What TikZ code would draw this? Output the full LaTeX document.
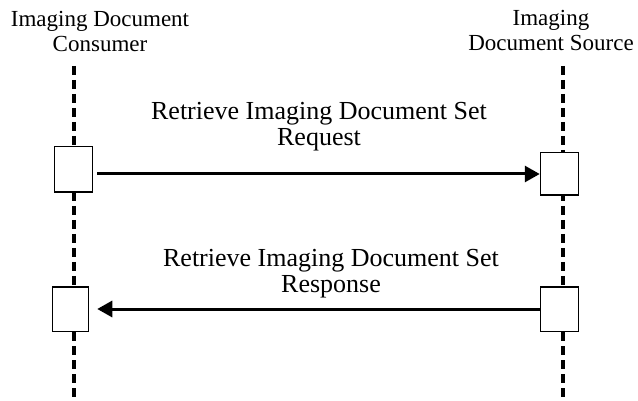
\documentclass[tikz,border=0pt]{standalone}
\usepackage{fontspec}
\setmainfont{Liberation Serif}
\usetikzlibrary{arrows.meta}

\begin{document}
\begin{tikzpicture}[x=1pt, y=-1pt, >={Triangle[length=15pt, width=16pt]},
    lifeline/.style={line width=3.5pt, dash pattern=on 9pt off 5pt},
    actbox/.style={draw, line width=1.5pt, fill=white, inner sep=0pt, minimum width=38pt},
    msg/.style={->, line width=3pt},
    hdr/.style={font=\fontsize{23}{25}\selectfont, align=center, inner sep=0pt, anchor=north},
    lbl/.style={font=\fontsize{26}{26}\selectfont, align=center, inner sep=0pt, anchor=north}]

    \useasboundingbox (0,0) rectangle (638,401);

    % Basliklar
    \node[hdr] (consumer) at (100, 11) {Imaging Document\\Consumer};
    \node[hdr] (source) at (551, 10) {Imaging\\Document Source};

    % Yasam cizgileri
    \coordinate (conTop) at (74, 66);
    \coordinate (conBot) at (74, 399);
    \coordinate (srcTop) at (563, 66);
    \coordinate (srcBot) at (563, 399);
    \draw[lifeline] (conTop) -- (conBot);
    \draw[lifeline] (srcTop) -- (srcBot);

    % Kutular
    \node[actbox, minimum height=45.5pt] (conReq) at (73.5, 169.5) {};
    \node[actbox, minimum height=42.5pt] (srcReq) at (559.5, 174) {};
    \node[actbox, minimum width=36pt, minimum height=44.5pt] (conRsp) at (70.5, 309) {};
    \node[actbox, minimum height=44.5pt] (srcRsp) at (559.5, 309) {};

    % Mesajlar
    \node[lbl] (reqText) at (319, 102) {Retrieve Imaging Document Set\\Request};
    \node[lbl] (rspText) at (331, 249) {Retrieve Imaging Document Set\\Response};

    \draw[msg, shorten <=4pt] (srcReq.west -| conReq.east) -- (srcReq.west);
    \draw[msg, shorten >=8pt] (srcRsp.west) -- (conRsp.east);
\end{tikzpicture}
\end{document}
